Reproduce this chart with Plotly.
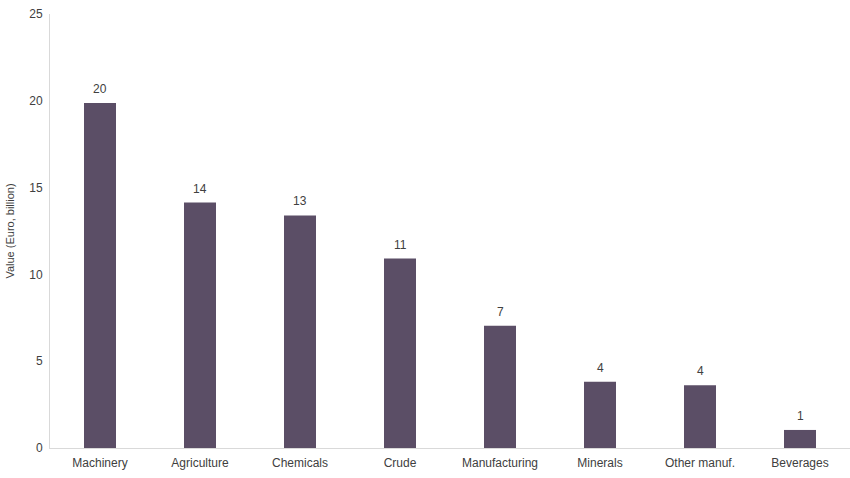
import plotly.graph_objects as go

categories = ["Machinery", "Agriculture", "Chemicals", "Crude", "Manufacturing", "Minerals", "Other manuf.", "Beverages"]
values = [19.87, 14.14, 13.4, 10.91, 7.04, 3.81, 3.62, 1.04]
labels = [f"{round(v):d}" for v in values]

fig = go.Figure()
fig.add_trace(go.Bar(
    x=categories, y=values,
    marker=dict(color="#5b4e66", line=dict(width=0)),
    width=0.32,
    hoverinfo="x+y",
))
for c, v, t in zip(categories, values, labels):
    fig.add_annotation(x=c, y=v, text=t, showarrow=False, yanchor="bottom",
                       yshift=5, font=dict(family="Arial, Liberation Sans", size=12, color="#404040"))

fig.update_layout(
    width=850, height=478,
    margin=dict(l=50, r=0, t=14, b=30),
    paper_bgcolor="white", plot_bgcolor="white",
    showlegend=False,
    font=dict(family="Arial, Liberation Sans", size=12, color="#404040"),
    xaxis=dict(showline=True, linecolor="#d9d9d9", linewidth=1, ticks="", showgrid=False,
               automargin=False, ticklabelstandoff=4, tickfont=dict(size=12, color="#404040")),
    yaxis=dict(range=[0, 25], dtick=5, showline=True, linecolor="#d9d9d9", linewidth=1,
               showgrid=False, zeroline=False, ticks="", ticklen=0, automargin=False,
               ticklabelstandoff=4,
               tickfont=dict(size=12, color="#404040"),
               title=dict(text="Value (Euro, billion)", font=dict(size=11, color="#404040"), standoff=12)),
)
fig.write_html("out.html", config={"displayModeBar": False},
               post_script="document.body.style.margin='0';document.body.style.overflow='hidden';")
